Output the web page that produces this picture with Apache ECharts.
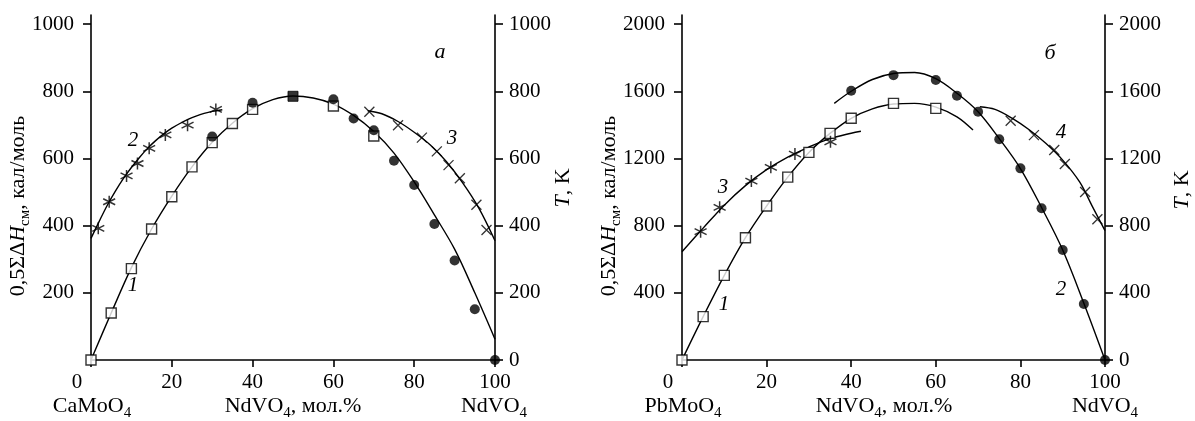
<!DOCTYPE html>
<html><head><meta charset="utf-8">
<script src="https://cdn.jsdelivr.net/npm/echarts@6/dist/echarts.min.js"></script>
<style>html,body{margin:0;padding:0;background:#fff}#c{width:1195px;height:421px}</style>
</head><body><div id="c"></div>
<script>
// ---------- Panel а : CaMoO4 – NdVO4 ----------
const squaresA = [[0,0],[5,140],[10,272],[15,390],[20,486],[25,575],[30,647],[35,704],[40,746],[60,756],[70,667]];
const filledSquaresA = [[50,785]];
const circlesA = [[30,665],[40,766],[60,776],[65,719],[70,684],[75,593],[80,521],[85,405],[90,296],[95,151],[100,0]];
const starsA = [[1.8,392],[4.5,471],[8.8,548],[11.5,585],[14.4,630],[18.4,670],[23.9,699],[30.9,746]];
const crossesA = [[68.9,739],[76,699],[81.9,662],[85.6,621],[88.5,580],[91.3,541],[95.4,462],[97.9,387]];
const curve1A = [[0,0],[5,140],[10,275],[15,390],[20,488],[25,575],[30,648],[35,705],[40,748],[45,775],[50,786],[55,780],[60,762],[65,728],[70,680],[75,616],[80,530],[85,432],[90,330],[95,200],[100,62]];
const curve2A = [[0,362],[2,412],[4,460],[6,502],[8,540],[10,573],[12,603],[14,630],[16,653],[18,673],[20,690],[22,704],[24,716],[26,726],[28,734],[30,740],[32.5,745]];
const curve3A = [[68.5,742],[72,733],[76,710],[80,678],[84,640],[88,590],[92,527],[96,452],[100,355]];
const leftTicksA = [200,400,600,800,1000];
const rightTicksA = [0,200,400,600,800,1000];

// ---------- Panel б : PbMoO4 – NdVO4 ----------
const squaresB = [[0,0],[5,258],[10,504],[15,728],[20,917],[25,1089],[30,1236],[35,1349],[40,1439],[50,1528],[60,1498]];
const circlesB = [[40,1603],[50,1696],[60,1667],[65,1573],[70,1478],[75,1314],[80,1141],[85,903],[90,655],[95,333],[100,0]];
const starsB = [[4.4,764],[8.9,909],[16.4,1065],[21,1147],[26.7,1226],[35.1,1299]];
const crossesB = [[77.7,1424],[83.2,1339],[88,1250],[90.5,1167],[95.3,1000],[98.2,838]];
const curve1B = [[0,0],[5,258],[10,504],[15,728],[20,917],[25,1089],[30,1236],[35,1349],[40,1439],[45,1495],[50,1524],[55,1528],[60,1506],[65,1448],[68.8,1369]];
const curve2B = [[36,1528],[40,1600],[45,1670],[50,1706],[55,1712],[60,1675],[65,1588],[70,1478],[75,1318],[80,1140],[85,908],[90,655],[95,338],[100,0]];
const curve3B = [[0,645],[5,785],[10,922],[15,1038],[20,1133],[25,1208],[30,1268],[35,1318],[40,1350],[42.3,1362]];
const curve4B = [[70.4,1508],[74,1492],[78,1440],[82,1372],[86,1290],[90,1190],[94,1060],[97,915],[100,770]];
const leftTicksB = [400,800,1200,1600,2000];
const rightTicksB = [0,400,800,1200,1600,2000];

const FONT = '"Liberation Serif", "Times New Roman", serif';
const BLACK = '#000';
const STAR = 'path://M0,-6L0,6M-5.2,-3L5.2,3M-5.2,3L5.2,-3';
const CROSS = 'path://M-5,-5L5,5M-5,5L5,-5';

function xAx(g) {
  return {
    gridIndex: g, type: 'value', min: 0, max: 100, interval: 20,
    axisLine: {show: true, onZero: false, lineStyle: {color: BLACK, width: 1.6}},
    axisTick: {show: true, inside: false, length: 7, lineStyle: {color: BLACK, width: 1.6}},
    axisLabel: {
      color: BLACK, fontFamily: FONT, fontSize: 21, margin: 12,
      formatter: v => v === 0 ? '{z|0}' : String(v),
      rich: {z: {fontFamily: FONT, fontSize: 21, color: BLACK, padding: [0, 28, 0, 0]}}
    },
    splitLine: {show: false}
  };
}
function yAx(g, pos, max, ticks) {
  return {
    gridIndex: g, type: 'value', position: pos, min: 0, max: max,
    axisLine: {show: true, onZero: false, lineStyle: {color: BLACK, width: 1.6}},
    axisTick: {show: true, inside: false, length: 8, customValues: ticks, lineStyle: {color: BLACK, width: 1.6}},
    axisLabel: {customValues: ticks, color: BLACK, fontFamily: FONT, fontSize: 21,
      margin: pos === 'left' ? 17 : 14, formatter: v => String(v)},
    splitLine: {show: false}
  };
}
function curve(data, xi, yi) {
  return {type: 'line', data: data, xAxisIndex: xi, yAxisIndex: yi, smooth: 0.35,
    showSymbol: false, symbol: 'none', z: 2, silent: true,
    lineStyle: {color: BLACK, width: 1.4}};
}
function pts(data, xi, yi, kind) {
  const s = {type: 'scatter', data: data, xAxisIndex: xi, yAxisIndex: yi, z: 5, silent: true};
  if (kind === 'square') {
    Object.assign(s, {symbol: 'rect', symbolSize: 10, itemStyle: {color: '#fff', borderColor: BLACK, borderWidth: 1.4}});
  } else if (kind === 'fsquare') {
    Object.assign(s, {symbol: 'rect', symbolSize: 10, itemStyle: {color: BLACK, borderColor: BLACK, borderWidth: 1}});
  } else if (kind === 'circle') {
    Object.assign(s, {symbol: 'circle', symbolSize: 10, itemStyle: {color: BLACK}});
  } else if (kind === 'star') {
    Object.assign(s, {symbol: STAR, symbolSize: 12, itemStyle: {color: BLACK, borderColor: BLACK, borderWidth: 1.5}});
  } else {
    Object.assign(s, {symbol: CROSS, symbolSize: 10, itemStyle: {color: BLACK, borderColor: BLACK, borderWidth: 1.3}});
  }
  return s;
}

const subRich = {
  s: {fontFamily: FONT, fontSize: 15, fill: BLACK, padding: [14, 0, 0, 0]},
  i: {fontFamily: FONT, fontSize: 22, fontStyle: 'italic', fill: BLACK}
};
function txt(x, y, text, opts) {
  opts = opts || {};
  return {
    type: 'text', x: x, y: y, rotation: opts.rot || 0, silent: true,
    style: {
      text: text, fill: BLACK, fontFamily: FONT, fontSize: opts.size || 22,
      fontStyle: opts.italic ? 'italic' : 'normal',
      align: 'center', verticalAlign: 'middle', rich: subRich
    }
  };
}

const chart = echarts.init(document.getElementById('c'), null, {renderer: 'canvas'});
chart.setOption({
  animation: false,
  backgroundColor: '#fff',
  grid: [
    {left: 91, top: 15, width: 404, height: 345},
    {left: 682, top: 15, width: 423, height: 345}
  ],
  xAxis: [xAx(0), xAx(1)],
  yAxis: [
    yAx(0, 'left', 1027, leftTicksA), yAx(0, 'right', 1027, rightTicksA),
    yAx(1, 'left', 2054, leftTicksB), yAx(1, 'right', 2054, rightTicksB)
  ],
  series: [
    curve(curve1A, 0, 0), curve(curve2A, 0, 0), curve(curve3A, 0, 0),
    pts(squaresA, 0, 0, 'square'), pts(filledSquaresA, 0, 0, 'fsquare'),
    pts(circlesA, 0, 0, 'circle'), pts(starsA, 0, 0, 'star'), pts(crossesA, 0, 0, 'cross'),
    curve(curve1B, 1, 2), curve(curve2B, 1, 2), curve(curve3B, 1, 2), curve(curve4B, 1, 2),
    pts(squaresB, 1, 2, 'square'), pts(circlesB, 1, 2, 'circle'),
    pts(starsB, 1, 2, 'star'), pts(crossesB, 1, 2, 'cross')
  ],
  graphic: [
    txt(18, 206, '0,5ΣΔ{i|H}{s|см}, кал/моль', {rot: Math.PI / 2}),
    txt(563, 188, '{i|T}, K', {rot: Math.PI / 2}),
    txt(609, 206, '0,5ΣΔ{i|H}{s|см}, кал/моль', {rot: Math.PI / 2}),
    txt(1182, 190, '{i|T}, K', {rot: Math.PI / 2}),
    txt(92, 406, 'CaMoO{s|4}'),
    txt(293, 406, 'NdVO{s|4}, мол.%'),
    txt(494, 406, 'NdVO{s|4}'),
    txt(683, 406, 'PbMoO{s|4}'),
    txt(884, 406, 'NdVO{s|4}, мол.%'),
    txt(1105, 406, 'NdVO{s|4}'),
    txt(133, 140, '2', {italic: true, size: 21}),
    txt(133, 285, '1', {italic: true, size: 21}),
    txt(452, 138, '3', {italic: true, size: 21}),
    txt(440, 52, 'а', {italic: true, size: 22}),
    txt(723, 187, '3', {italic: true, size: 21}),
    txt(724, 304, '1', {italic: true, size: 21}),
    txt(1061, 132, '4', {italic: true, size: 21}),
    txt(1061, 289, '2', {italic: true, size: 21}),
    txt(1050, 53, 'б', {italic: true, size: 22})
  ]
});
</script></body></html>
